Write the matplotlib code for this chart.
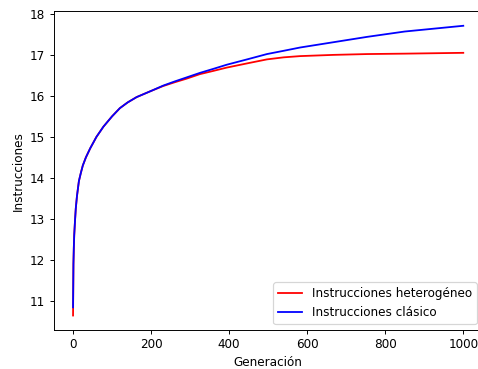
import matplotlib
matplotlib.use("Agg")
import matplotlib.pyplot as plt

gen_cla = [0, 1, 2, 3, 5, 7, 10, 15, 20, 25, 33, 44, 60, 78, 100, 120, 140,
           163, 200, 231, 260, 291, 325, 360, 394, 450, 497, 540, 582, 668,
           754, 850, 925, 1000]
cla = [10.84, 11.9, 12.3, 12.6, 12.95, 13.25, 13.55, 13.92, 14.12, 14.3,
       14.5, 14.72, 15.0, 15.25, 15.5, 15.7, 15.84, 15.97, 16.12, 16.25,
       16.35, 16.45, 16.56, 16.66, 16.76, 16.9, 17.02, 17.1, 17.18, 17.31,
       17.44, 17.57, 17.64, 17.71]
gen_het = [0, 1, 2, 3, 5, 7, 10, 15, 20, 25, 33, 44, 60, 78, 100, 120, 140,
           163, 200, 231, 260, 291, 325, 360, 394, 450, 497, 540, 582, 668,
           754, 850, 925, 1000]
het = [10.64, 11.9, 12.3, 12.6, 12.95, 13.25, 13.55, 13.92, 14.12, 14.3,
       14.5, 14.72, 15.0, 15.25, 15.5, 15.7, 15.84, 15.97, 16.12, 16.24,
       16.33, 16.42, 16.53, 16.61, 16.69, 16.8, 16.89, 16.94, 16.97, 17.0,
       17.02, 17.03, 17.04, 17.05]

DPI = 86.4
fig = plt.figure(figsize=(478 / DPI, 369 / DPI), dpi=DPI)
ax = fig.add_axes([0.112, 0.1057, 0.898, 0.8637])
ax.plot(gen_het, het, color="red", label="Instrucciones heterogéneo")
ax.plot(gen_cla, cla, color="blue", label="Instrucciones clásico")
ax.set_xlabel("Generación")
ax.set_ylabel("Instrucciones")
ax.legend(loc="lower right")
fig.savefig("out.png", dpi=DPI)
